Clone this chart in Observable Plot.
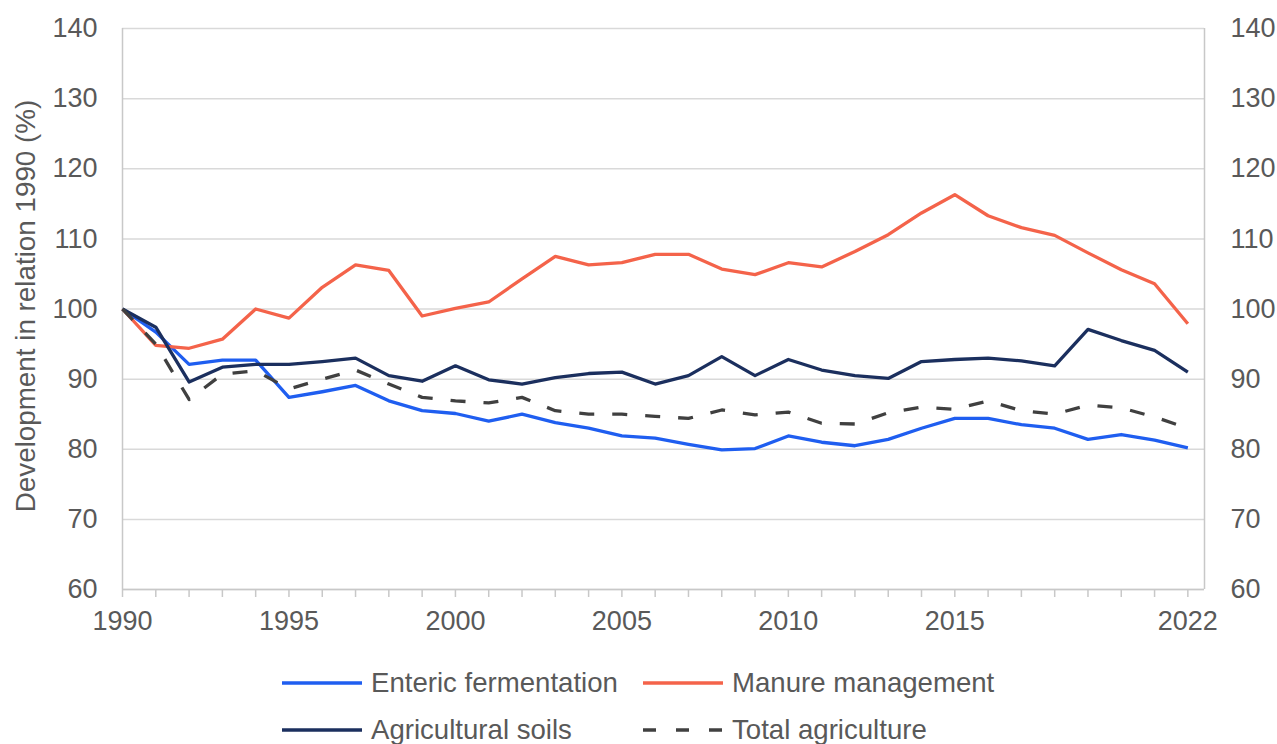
<!DOCTYPE html>
<html><head><meta charset="utf-8">
<script src="https://cdn.jsdelivr.net/npm/d3@7"></script>
<script src="https://cdn.jsdelivr.net/npm/@observablehq/plot@0.6"></script>
<style>
body{margin:0;background:#fff;font-family:"Liberation Sans",Arial,sans-serif;}
#wrap{position:relative;width:1277px;height:744px;overflow:hidden;background:#fff;}
.leg{position:absolute;display:flex;align-items:center;height:40px;font-size:27.6px;color:#595959;white-space:nowrap;}
.leg svg{margin-right:9px;display:block;}
</style></head><body><div id="wrap"></div>
<script>
const years = [1990,1991,1992,1993,1994,1995,1996,1997,1998,1999,2000,2001,2002,2003,2004,2005,2006,2007,2008,2009,2010,2011,2012,2013,2014,2015,2016,2017,2018,2019,2020,2021,2022];
const enteric = [100,96.7,92.1,92.7,92.7,87.4,88.2,89.1,86.9,85.5,85.1,84.0,85.0,83.8,83.0,81.9,81.6,80.7,79.9,80.1,81.9,81.0,80.5,81.4,83.0,84.4,84.4,83.5,83.0,81.4,82.1,81.3,80.2];
const manure = [100,94.8,94.4,95.7,100.0,98.7,103.1,106.3,105.5,99.0,100.1,101.0,104.3,107.5,106.3,106.6,107.8,107.8,105.7,104.9,106.6,106.0,108.2,110.6,113.7,116.3,113.3,111.6,110.5,108.0,105.6,103.6,97.9];
const soils = [100,97.4,89.6,91.7,92.1,92.1,92.5,93.0,90.5,89.7,91.9,89.9,89.3,90.2,90.8,91.0,89.3,90.5,93.2,90.5,92.8,91.3,90.5,90.1,92.5,92.8,93.0,92.6,91.9,97.1,95.5,94.1,91.0];
const total = [100,95.0,87.1,90.7,91.2,88.6,90.0,91.3,89.3,87.4,86.9,86.6,87.4,85.5,85.0,85.0,84.7,84.4,85.6,84.9,85.3,83.7,83.6,85.2,86.0,85.7,86.9,85.5,85.0,86.3,85.9,84.6,83.0];
const seriesNames = ["Enteric fermentation","Manure management","Agricultural soils","Total agriculture"];
const seriesColors = ["#1f5ef0","#f4634a","#1b2f5e","#404040"];
const yTicks = [60,70,80,90,100,110,120,130,140];
const xLabelYears = [1990,1995,2000,2005,2010,2015,2022];
const yTitle = "Development in relation 1990 (%)";

const seriesValues = [enteric, manure, soils, total];
const rows = seriesValues.map((vals, i) => years.map((yr, j) => ({year: yr, value: vals[j], series: seriesNames[i]})));

const grid = "#d9d9d9", axisGrey = "#c8c8c8", textGrey = "#595959";
const font = {fontFamily: "'Liberation Sans', Arial, sans-serif", fontSize: "27px"};

const lineMark = (i, extra = {}) => Plot.line(rows[i], {x: "year", y: "value", stroke: seriesColors[i], strokeWidth: 3.3, strokeLinejoin: "round", strokeLinecap: "butt", ...extra});

const chart = Plot.plot({
  width: 1277, height: 650,
  marginLeft: 122, marginRight: 73, marginTop: 28, marginBottom: 61,
  style: {...font, color: textGrey, background: "#fff"},
  x: {type: "linear", domain: [1990, 2022.5], label: null},
  y: {domain: [60, 140], label: null},
  marks: [
    Plot.gridY(yTicks, {stroke: grid, strokeOpacity: 1, strokeWidth: 1.5}),
    Plot.ruleX([1990, 2022.5], {stroke: axisGrey, strokeWidth: 1.5}),
    Plot.ruleY([60], {stroke: axisGrey, strokeWidth: 1.5}),
    Plot.axisY(yTicks, {anchor: "left", tickSize: 0, tickPadding: 25, fontSize: 27, fill: textGrey, label: null}),
    Plot.text([yTitle], {frameAnchor: "left", dx: -107, dy: -3, rotate: -90, fontSize: 27.8, fill: textGrey, lineAnchor: "top", textAnchor: "middle"}),
    Plot.axisY(yTicks, {anchor: "right", tickSize: 0, tickPadding: 26, fontSize: 27, fill: textGrey, label: null}),
    Plot.axisX(years, {anchor: "bottom", tickSize: 8, stroke: axisGrey, strokeWidth: 1.5, tickFormat: () => "", label: null}),
    Plot.axisX(xLabelYears, {anchor: "bottom", tickSize: 0, tickPadding: 21, fontSize: 27, fill: textGrey, tickFormat: d => String(d), label: null}),
    lineMark(0),
    lineMark(1),
    lineMark(2),
    lineMark(3, {strokeDasharray: "15,18"})
  ]
});

const wrap = document.getElementById("wrap");
wrap.appendChild(chart);

const legendPos = [[282, 663], [643, 663], [282, 710], [643, 710]];
seriesNames.forEach((name, i) => {
  const item = document.createElement("div");
  item.className = "leg";
  item.style.left = legendPos[i][0] + "px";
  item.style.top = legendPos[i][1] + "px";
  const dash = i === 3 ? ' stroke-dasharray="13,20"' : '';
  item.innerHTML = `<svg width="80" height="8"><line x1="0" x2="80" y1="4" y2="4" stroke="${seriesColors[i]}" stroke-width="3.5"${dash}/></svg><span>${name}</span>`;
  wrap.appendChild(item);
});
</script></body></html>
